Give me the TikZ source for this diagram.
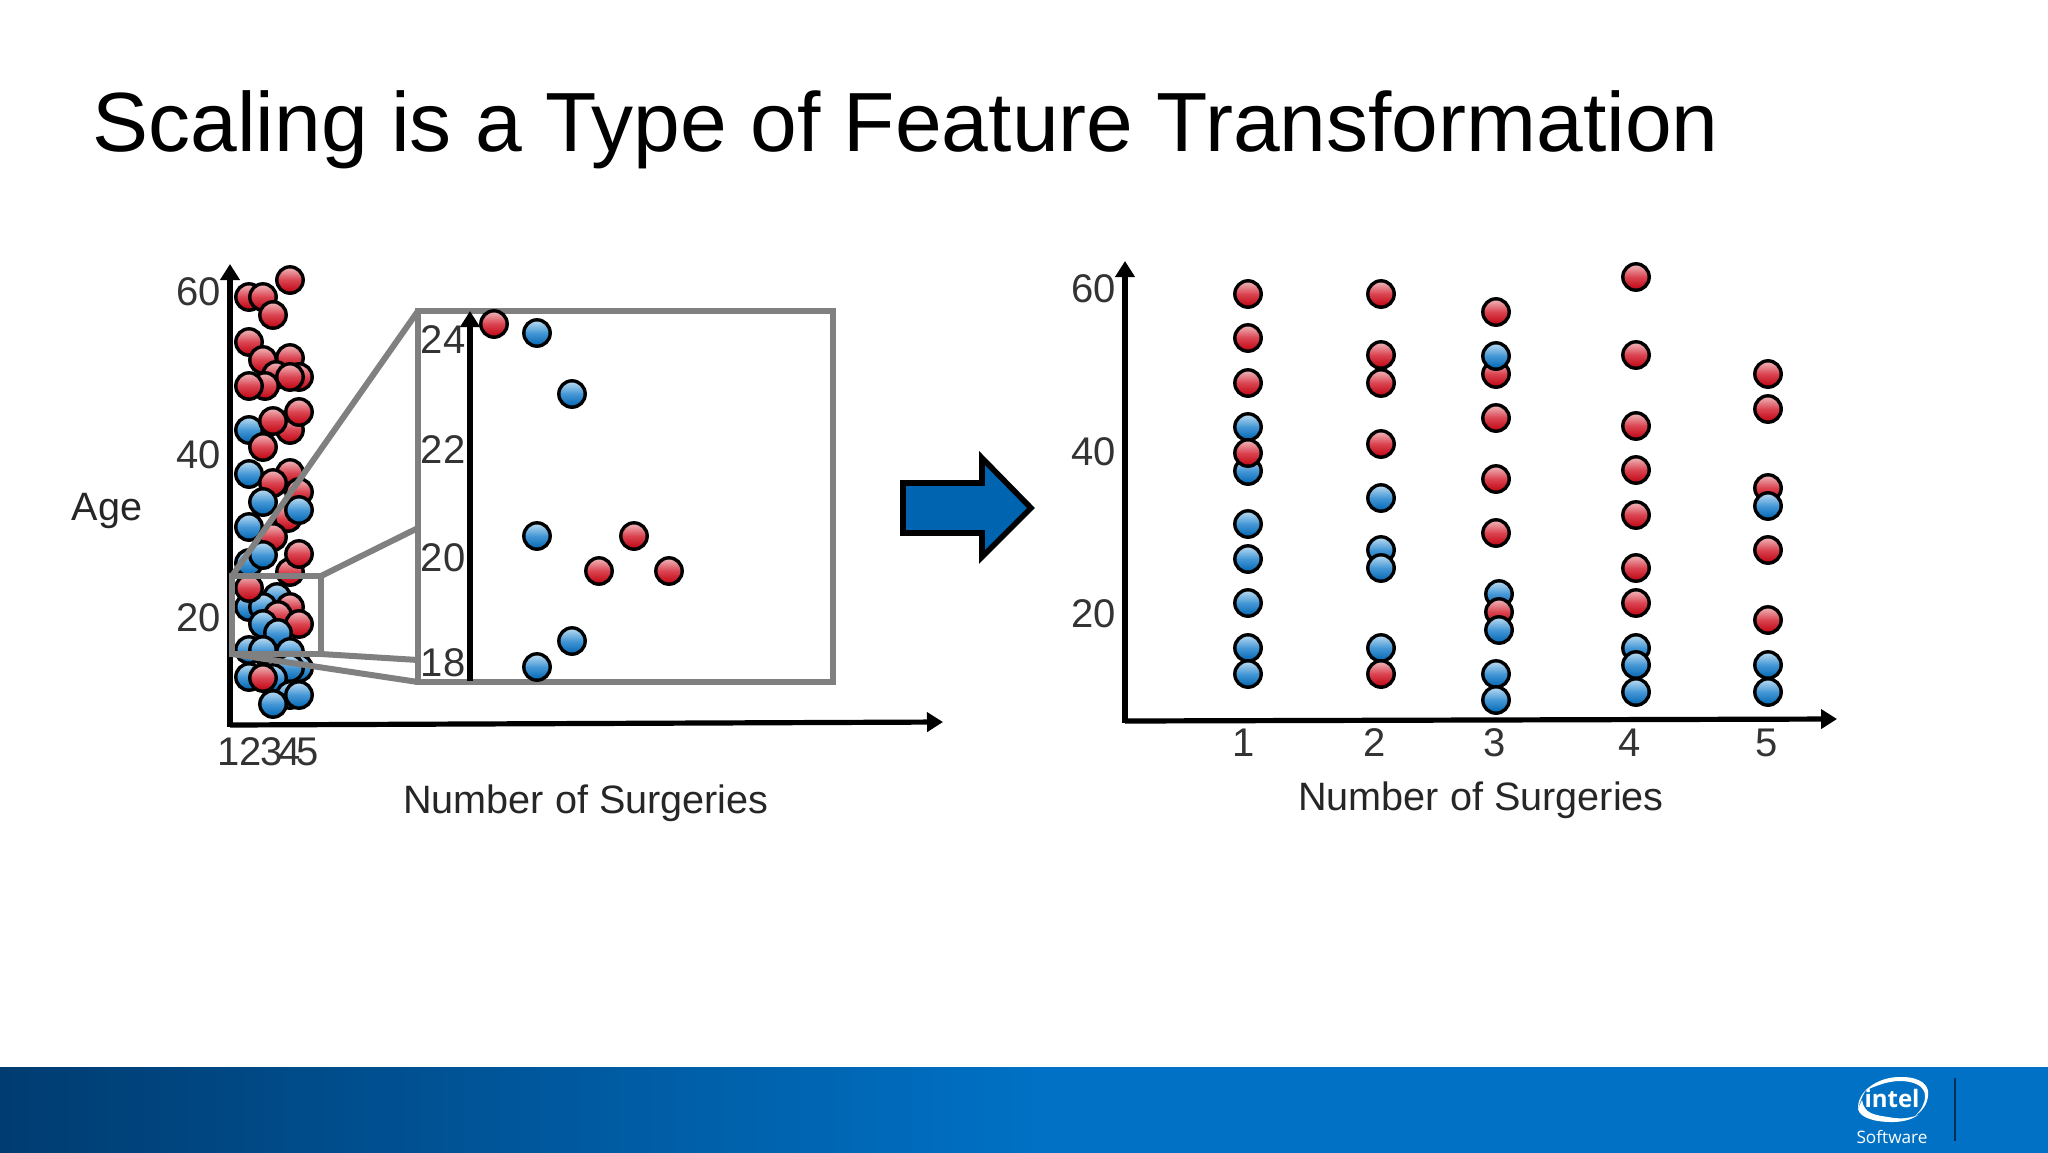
\documentclass[tikz,border=0pt]{standalone}
\usepackage{fontspec}
\setmainfont{Liberation Sans}
\newfontfamily\logofont{Open Sans}
\usetikzlibrary{positioning, arrows.meta, calc}
\definecolor{ballred}{HTML}{C00010}
\definecolor{ballmid}{HTML}{DA4450}
\definecolor{ballpink}{HTML}{F0BCC0}
\definecolor{ballblue}{HTML}{0064B0}
\definecolor{ballbluemid}{HTML}{4497D6}
\definecolor{ballsky}{HTML}{C0DEF2}
\definecolor{zoomgrey}{HTML}{808080}
\definecolor{labelgrey}{HTML}{333333}
\definecolor{banddark}{HTML}{003C71}
\definecolor{bandblue}{HTML}{0071C5}
\tikzset{
	redball/.style={shading=axis, top color=ballpink, bottom color=ballred, middle color=ballmid, draw=black, line width=1.7pt},
	blueball/.style={shading=axis, top color=ballsky, bottom color=ballblue, middle color=ballbluemid, draw=black, line width=1.7pt},
	axisline/.style={draw=black, line width=2.6pt, -{Triangle[length=8pt, width=9.5pt]}},
	zoomline/.style={draw=zoomgrey, line width=3pt},
	zoombox/.style={zoomline, rectangle, inner sep=0pt, outer sep=0pt},
	ticklabel/.style={text=labelgrey, font=\fontsize{20}{24}\selectfont, inner sep=0pt},
	axislabel/.style={text=black!85, font=\fontsize{19.8}{24}\selectfont, inner sep=0pt}
}
\begin{document}
\begin{tikzpicture}[x=0.5pt, y=-0.5pt]
	\useasboundingbox (0,0) rectangle (2048,1152);
	\fill[white] (0,0) rectangle (2048,1152);
	\node[anchor=base west, inner sep=0pt, font=\fontsize{42}{50}\selectfont] (title) at (92,151) {Scaling is a Type of Feature Transformation};

	% left chart
	\foreach \px/\py/\kind in {
		249/297/redball, 263/297/redball, 273/315/redball, 290/280/redball,
		249/342/redball, 263/360/redball, 290/358/redball, 276/375/redball, 299/377/redball,
		265/386/redball, 290/377/redball, 249/386/redball,
		249/430/blueball, 290/430/redball, 273/421/redball, 299/412/redball, 263/447/redball,
		249/474/blueball, 290/473/redball, 273/483/redball, 288/518/redball, 299/492/redball,
		263/502/blueball, 299/510/blueball, 249/527/blueball, 273/537/redball,
		249/563/blueball, 263/555/blueball, 290/572/redball, 299/554/redball,
		277/597/blueball, 249/607/blueball, 263/607/blueball, 249/588/redball, 290/607/redball, 278/615/redball,
		299/624/redball, 263/624/blueball, 278/633/blueball,
		249/650/blueball, 263/650/blueball, 290/652/blueball, 299/668/blueball, 290/668/blueball,
		273/678/blueball, 249/677/blueball, 263/678/redball,
		290/695/blueball, 299/695/blueball, 273/704/blueball}
		\path[\kind] (\px,\py) circle (13.2);

	\coordinate (leftorigin) at (230,725);
	\coordinate (lefttop) at (230,264);
	\coordinate (leftend) at (943,722);
	\draw[axisline] ($(leftorigin)+(0,2)$) -- (lefttop);
	\draw[axisline] (leftorigin) -- (leftend);

	\foreach \lab/\py in {60/292, 40/455, 20/618}
		\node[ticklabel, anchor=east] (left\lab) at (221,\py) {\lab};
	\foreach \lab/\px in {1/229, 2/251, 3/272, 4/290, 5/308}
		\node[ticklabel] (leftx\lab) at (\px,752) {\lab};
	\node[axislabel] (leftage) at (107,511) {Age};
	\node[axislabel] (leftname) at (586,803) {Number of Surgeries};

	% zoom boxes
	\node[zoombox, minimum width=44.5pt, minimum height=39pt] (smallbox) at (276.5,615) {};
	\node[zoombox, minimum width=207.5pt, minimum height=185.5pt] (bigbox) at (625.5,496.5) {};
	\coordinate (smallright) at (321,576);
	\coordinate (bigupper) at (418,528);
	\coordinate (smalllow) at (321,654);
	\coordinate (biglow) at (418,660);
	\draw[zoomline] (smallbox.north west) -- (bigbox.north west);
	\draw[zoomline] (smallright) -- (bigupper);
	\draw[zoomline] (smalllow) -- (biglow);
	\draw[zoomline] (smallbox.south west) -- (bigbox.south west);

	\coordinate (innerorigin) at (470,681);
	\coordinate (innertop) at (470,311);
	\draw[axisline] (innerorigin) -- (innertop);
	\foreach \lab/\py in {24/340, 22/450, 20/558, 18/663}
		\node[ticklabel] (inner\lab) at (443,\py) {\lab};
	\foreach \px/\py/\kind in {
		494/324/redball, 537/333/blueball, 572/394/blueball, 537/536/blueball, 634/536/redball,
		599/571/redball, 669/571/redball, 572/641/blueball, 537/667/blueball}
		\path[\kind] (\px,\py) circle (13.2);

	% big arrow
	\draw[draw=black, fill=ballblue, line width=2.8pt, miter limit=10]
		(903,483) -- (982,483) -- (982,458) -- (1031,508) -- (982,557) -- (982,533) -- (903,533) -- cycle;

	% right chart
	\coordinate (rightorigin) at (1125,721);
	\coordinate (righttop) at (1125,261);
	\coordinate (rightend) at (1837,719);
	\draw[axisline] ($(rightorigin)+(0,2)$) -- (righttop);
	\draw[axisline] (rightorigin) -- (rightend);
	\foreach \py/\kind in {294/redball, 338/redball, 383/redball, 427/blueball, 471/blueball, 453/redball,
		524/blueball, 559/blueball, 603/blueball, 648/blueball, 674/blueball}
		\path[\kind] (1248,\py) circle (13.2);
	\foreach \py/\kind in {294/redball, 355/redball, 383/redball, 444/redball, 498/blueball, 550/blueball,
		568/blueball, 648/blueball, 674/redball}
		\path[\kind] (1381,\py) circle (13.2);
	\foreach \px/\py/\kind in {1496/312/redball, 1496/374/redball, 1496/356/blueball, 1496/418/redball,
		1496/479/redball, 1496/533/redball, 1499/594/blueball, 1499/612/redball, 1499/630/blueball,
		1496/674/blueball, 1496/700/blueball}
		\path[\kind] (\px,\py) circle (13.2);
	\foreach \py/\kind in {277/redball, 355/redball, 426/redball, 470/redball, 515/redball, 568/redball,
		603/redball, 648/blueball, 665/blueball, 692/blueball}
		\path[\kind] (1636,\py) circle (13.2);
	\foreach \py/\kind in {374/redball, 409/redball, 488/redball, 506/blueball, 550/redball, 620/redball,
		665/blueball, 692/blueball}
		\path[\kind] (1768,\py) circle (13.2);

	\foreach \lab/\py in {60/289, 40/452, 20/614}
		\node[ticklabel, anchor=east] (right\lab) at (1116,\py) {\lab};
	\foreach \lab/\px in {1/1244, 2/1375, 3/1495, 4/1630, 5/1767}
		\node[ticklabel] (rightx\lab) at (\px,743) {\lab};
	\node[axislabel] (rightname) at (1481,800) {Number of Surgeries};

	% footer band
	\shade[left color=banddark, right color=bandblue] (0,1067) rectangle (1040,1156);
	\fill[bandblue] (1039,1067) rectangle (2048,1156);
	\fill[white] (1858,1109) .. controls (1857,1090) and (1880,1076) .. (1902,1077)
		.. controls (1920,1077) and (1930,1085) .. (1928,1096)
		.. controls (1927,1105) and (1922,1111) .. (1915,1116)
		.. controls (1921,1110) and (1925,1104) .. (1925,1096)
		.. controls (1925,1086) and (1914,1081) .. (1900,1081)
		.. controls (1884,1081) and (1870,1089) .. (1866,1090)
		.. controls (1862,1096) and (1860,1102) .. (1858,1109) -- cycle;
	\fill[white] (1858,1109) .. controls (1860,1118) and (1875,1122) .. (1892,1122)
		.. controls (1902,1122) and (1911,1120) .. (1918,1115)
		.. controls (1908,1119) and (1898,1119) .. (1888,1117)
		.. controls (1875,1115) and (1864,1114) .. (1862,1100) -- cycle;
	\node[text=white, inner sep=0pt, font=\logofont\bfseries\fontsize{12}{15}\selectfont] (intelmark) at (1892,1098) {intel};
	\node[text=white, inner sep=0pt, font=\logofont\fontsize{8.6}{10}\selectfont] (software) at (1892,1137) {Software};
	\draw[draw=banddark!80!black, line width=0.9pt] (1955,1078) -- (1955,1141);
\end{tikzpicture}
\end{document}
